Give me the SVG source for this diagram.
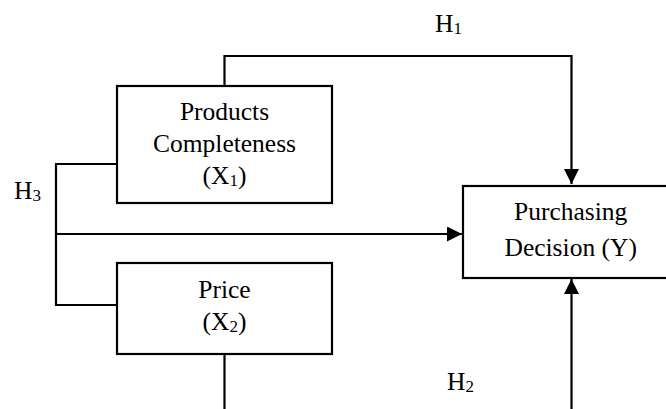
<svg xmlns="http://www.w3.org/2000/svg" width="666" height="409" viewBox="0 0 666 409">
<defs>
<style>
.box{fill:#fff;stroke:#000;stroke-width:2.2}
.ln{fill:none;stroke:#000;stroke-width:2.2}
text{font-family:"Liberation Serif","Times New Roman",serif;font-size:25.5px;fill:#000}
.c{text-anchor:middle}
.sub{font-size:17px}
</style>
<marker id="ah" viewBox="0 0 10 10" refX="10" refY="5" markerWidth="15" markerHeight="15" markerUnits="userSpaceOnUse" orient="auto">
<path d="M0,0 L10,5 L0,10 Z" fill="#000"/>
</marker>
</defs>
<rect width="666" height="409" fill="#fff"/>
<g id="connectors">
<path class="ln" d="M224.5,86 V56 H571.5 V184" marker-end="url(#ah)"/>
<path class="ln" d="M117,164 H56 V305 H117"/>
<path class="ln" d="M56,234 H462" marker-end="url(#ah)"/>
<path class="ln" d="M224.5,354 V409"/>
<path class="ln" d="M571.5,409 V279" marker-end="url(#ah)"/>
</g>
<g id="node-x1">
<rect class="box" x="117" y="86" width="215" height="117"/>
<text class="c" x="224.5" y="120">Products</text>
<text class="c" x="224.5" y="151.5">Completeness</text>
<text class="c" x="224.5" y="183.5">(X<tspan class="sub" dy="2">1</tspan><tspan dy="-2">)</tspan></text>
</g>
<g id="node-x2">
<rect class="box" x="117" y="263" width="215" height="91"/>
<text class="c" x="224.5" y="298">Price</text>
<text class="c" x="224.5" y="329.5">(X<tspan class="sub" dy="2">2</tspan><tspan dy="-2">)</tspan></text>
</g>
<g id="node-y">
<rect class="box" x="463" y="186" width="216" height="92"/>
<text class="c" x="570.7" y="220">Purchasing</text>
<text class="c" x="570.7" y="256">Decision (Y)</text>
</g>
<g id="labels">
<text x="435" y="32">H<tspan class="sub" dy="2">1</tspan></text>
<text x="14" y="198.5">H<tspan class="sub" dy="2">3</tspan></text>
<text x="447" y="389.5">H<tspan class="sub" dy="2">2</tspan></text>
</g>
</svg>
